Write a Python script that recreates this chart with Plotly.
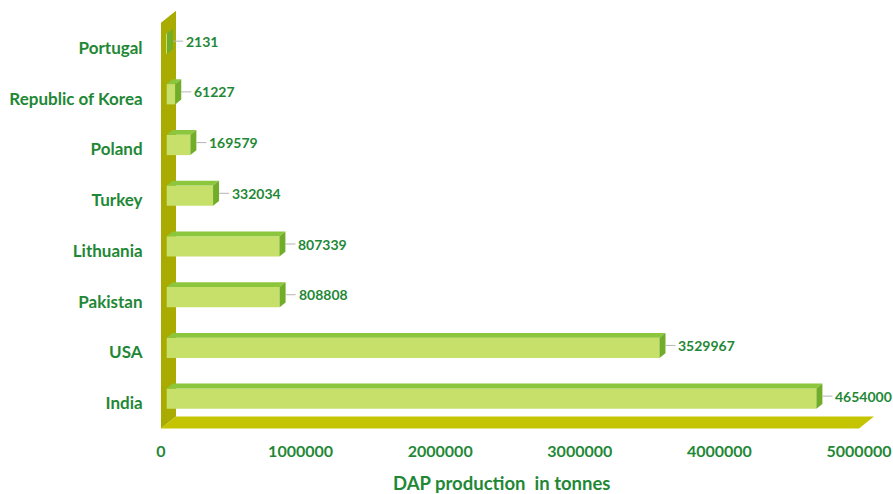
import plotly.graph_objects as go

# DAP production by country (tonnes)
countries = ["India", "USA", "Pakistan", "Lithuania", "Turkey", "Poland",
             "Republic of Korea", "Portugal"]
production = [4654000, 3529967, 808808, 807339, 332034, 169579, 61227, 2131]
x_ticks = [0, 1000000, 2000000, 3000000, 4000000, 5000000]
x_tick_labels = ["0", "1000000", "2000000", "3000000", "4000000", "5000000"]
axis_title = "DAP production\u00a0 in tonnes"

# canvas and plot-area geometry
W, H = 893, 494
L, R, T, B = 156, 0, 5, 63
X_ZERO_PX, X_MAX_PX = 161, 859          # where 0 and the last tick sit
px_per_unit = (X_MAX_PX - X_ZERO_PX) / x_ticks[-1]
x_min = -(X_ZERO_PX - L) / px_per_unit
x_max = x_min + (W - L - R) / px_per_unit
y_min, y_max = -0.55, 7.85
px_per_cat = (H - T - B) / (y_max - y_min)

# pseudo-3D depth vector (right and up), in data units
DX = 15 / px_per_unit
DY = 12 / px_per_cat
BAR_FRONT, BAR_BACK = 0.38, 0.78        # bar depth as fractions of the box depth
BAR_W = 0.4

WALL = "#a9ab00"
FLOOR = "#c4c500"
FRONT = "#c6e06a"
TOP = "#8cc63c"
SIDE = "#72ad2a"
TEXT = "#1f8836"
FONT = "Lato"

base = BAR_FRONT * DX
lift = BAR_FRONT * DY
fdx = (BAR_BACK - BAR_FRONT) * DX
fdy = (BAR_BACK - BAR_FRONT) * DY
idx = list(range(len(countries)))

fig = go.Figure()
fig.add_trace(go.Bar(
    y=idx, x=production, base=base, orientation="h",
    width=BAR_W, offset=-BAR_W / 2 + lift,
    marker=dict(color=FRONT, line=dict(width=0)),
    hoverinfo="skip", showlegend=False,
))


def poly(pts):
    return "M " + " L ".join(f"{x},{y}" for x, y in pts) + " Z"


shapes = []
# side wall and floor of the chart box
y_lo, y_hi = -0.5, len(countries) - 0.5
shapes.append(dict(type="path", xref="x", yref="y", layer="below",
                   path=poly([(0, y_lo), (0, y_hi), (DX, y_hi + DY), (DX, y_lo + DY)]),
                   fillcolor=WALL, line=dict(width=0)))
shapes.append(dict(type="path", xref="x", yref="y", layer="below",
                   path=poly([(0, y_lo), (x_ticks[-1], y_lo),
                              (x_ticks[-1] + DX, y_lo + DY), (DX, y_lo + DY)]),
                   fillcolor=FLOOR, line=dict(width=0)))

annotations = []
leader = 10 / px_per_unit
for i, v in zip(idx, production):
    y0 = i + lift - BAR_W / 2
    y1 = y0 + BAR_W
    x0, x1 = base, base + v
    shapes.append(dict(type="path", xref="x", yref="y", layer="above",
                       path=poly([(x0, y1), (x1, y1), (x1 + fdx, y1 + fdy), (x0 + fdx, y1 + fdy)]),
                       fillcolor=TOP, line=dict(width=0)))
    shapes.append(dict(type="path", xref="x", yref="y", layer="above",
                       path=poly([(x1, y0), (x1, y1), (x1 + fdx, y1 + fdy), (x1 + fdx, y0 + fdy)]),
                       fillcolor=SIDE, line=dict(width=0)))
    ym = (y0 + y1) / 2 + fdy / 2
    shapes.append(dict(type="line", xref="x", yref="y", layer="above",
                       x0=x1 + fdx, x1=x1 + fdx + leader, y0=ym, y1=ym,
                       line=dict(color="#b4b4b4", width=1)))
    annotations.append(dict(x=x1 + fdx + leader, y=ym, xref="x", yref="y",
                            text=str(v), showarrow=False, xanchor="left",
                            yanchor="middle", xshift=1,
                            font=dict(family=FONT, size=14, color=TEXT, weight="bold")))

annotations.append(dict(x=(501 - L) / (W - L - R), y=(H - B - 483) / (H - T - B),
                        xref="paper", yref="paper", text=axis_title, showarrow=False,
                        xanchor="center", yanchor="middle",
                        font=dict(family=FONT, size=18.5, color=TEXT, weight="bold")))

fig.update_layout(
    width=W, height=H,
    margin=dict(l=L, r=R, t=T, b=B, pad=0),
    paper_bgcolor="white", plot_bgcolor="white",
    shapes=shapes, annotations=annotations,
    xaxis=dict(range=[x_min, x_max], tickvals=x_ticks, ticktext=x_tick_labels,
               showgrid=False, zeroline=False, showline=False,
               ticks="outside", ticklen=6, tickcolor="rgba(0,0,0,0)",
               tickfont=dict(family=FONT, size=16, color=TEXT, weight="bold")),
    yaxis=dict(range=[y_min, y_max], tickvals=idx, ticktext=countries,
               showgrid=False, zeroline=False, showline=False,
               ticks="outside", ticklen=9, tickcolor="rgba(0,0,0,0)",
               tickfont=dict(family=FONT, size=17, color=TEXT, weight="bold")),
)

fig.write_html("out.html")
